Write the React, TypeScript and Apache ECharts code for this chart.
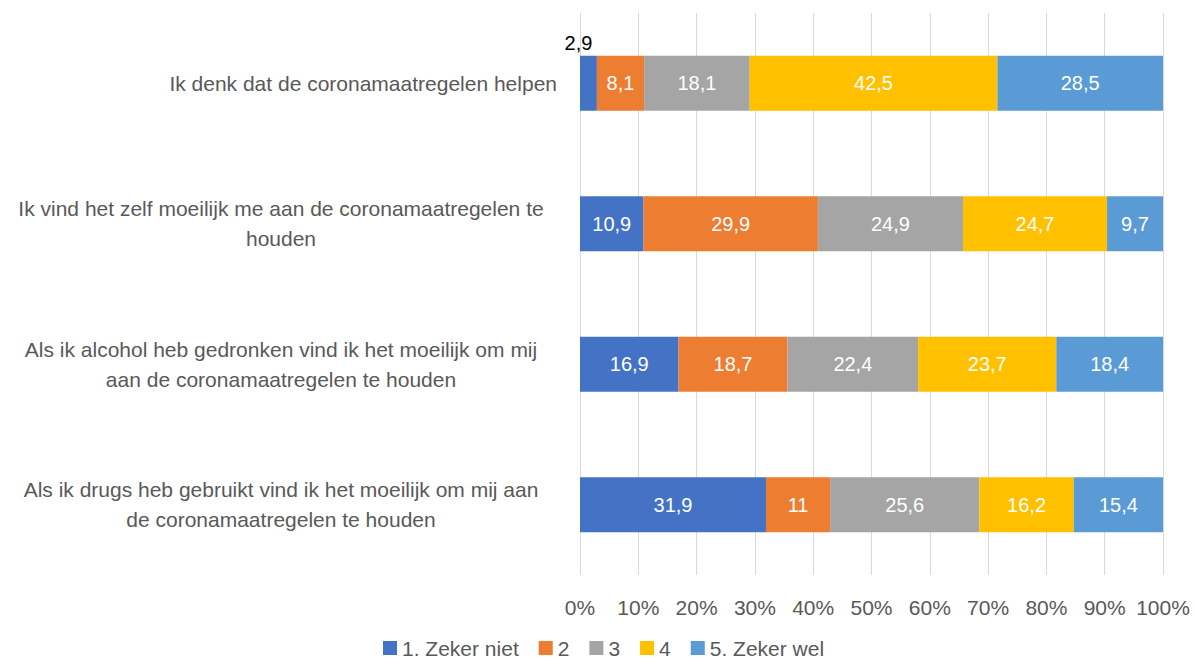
import React, { useEffect, useRef } from "react";
import * as echarts from "echarts";

const categories = [
  "Ik denk dat de coronamaatregelen helpen",
  "Ik vind het zelf moeilijk me aan de coronamaatregelen te\nhouden",
  "Als ik alcohol heb gedronken vind ik het moeilijk om mij\naan de coronamaatregelen te houden",
  "Als ik drugs heb gebruikt vind ik het moeilijk om mij aan\nde coronamaatregelen te houden",
];
const seriesNames = ["1. Zeker niet", "2", "3", "4", "5. Zeker wel"];
const zekerNiet = [2.9, 10.9, 16.9, 31.9];
const twee = [8.1, 29.9, 18.7, 11];
const drie = [18.1, 24.9, 22.4, 25.6];
const vier = [42.5, 24.7, 23.7, 16.2];
const zekerWel = [28.5, 9.7, 18.4, 15.4];
const xTicks = [0, 10, 20, 30, 40, 50, 60, 70, 80, 90, 100];

const colors = ["#4472C4", "#ED7D31", "#A5A5A5", "#FFC000", "#5B9BD5"];
const FONT = "Liberation Sans";

export default function App() {
  const ref = useRef<HTMLDivElement>(null);
  useEffect(() => {
    if (!ref.current) return;
    const chart = echarts.init(ref.current, null, { renderer: "svg" });
    const allData = [zekerNiet, twee, drie, vier, zekerWel];
    const fmt = (v: number) => String(v).replace(".", ",");
    const series = allData.map((arr, si) => ({
      name: seriesNames[si],
      type: "bar",
      stack: "total",
      barWidth: "39%",
      itemStyle: { color: colors[si] },
      label: {
        show: true,
        position: "inside",
        color: "#FFFFFF",
        fontFamily: FONT,
        fontSize: 20,
        formatter: (p: any) => fmt(p.value),
      },
      data: arr.map((v, ci) => {
        if (si === 0 && ci === 0) {
          return {
            value: v,
            label: { position: "top", color: "#000000", distance: 3, offset: [-10, 0] },
          };
        }
        return v;
      }),
    }));
    chart.setOption({
      animation: false,
      backgroundColor: "#FFFFFF",
      grid: { left: 580, right: 32, top: 13, bottom: 91, containLabel: false },
      legend: {
        top: 636,
        left: 383,
        padding: 0,
        itemWidth: 14,
        itemHeight: 14,
        itemGap: 20,
        icon: "rect",
        textStyle: { color: "#595959", fontFamily: FONT, fontSize: 21, lineHeight: 24 },
        data: seriesNames,
      },
      xAxis: {
        type: "value",
        min: 0,
        max: 100,
        interval: 10,
        axisLine: { show: false },
        axisTick: { show: false },
        splitLine: { show: true, lineStyle: { color: "#D9D9D9", width: 1 } },
        axisLabel: {
          color: "#595959",
          fontFamily: FONT,
          fontSize: 21,
          margin: 22,
          formatter: (v: number) => (xTicks.includes(v) ? v + "%" : ""),
        },
      },
      yAxis: {
        type: "category",
        inverse: true,
        data: categories,
        axisLine: { show: true, lineStyle: { color: "#D9D9D9" } },
        axisTick: { show: false },
        axisLabel: {
          color: "#595959",
          fontFamily: FONT,
          fontSize: 21,
          margin: 23,
          lineHeight: 30,
          formatter: (v: string) => {
            const lines = v.split("\n");
            if (lines.length === 1) return "{r|" + v + "}";
            return lines.map((l) => "{c|" + l + "}").join("\n");
          },
          rich: {
            r: { width: 552, align: "right", color: "#595959", fontFamily: FONT, fontSize: 21, lineHeight: 30 },
            c: { width: 552, align: "center", color: "#595959", fontFamily: FONT, fontSize: 21, lineHeight: 30 },
          },
        },
      },
      series,
    });
    return () => chart.dispose();
  }, []);
  return (
    <div
      ref={ref}
      style={{ position: "fixed", left: 0, top: 0, width: 1195, height: 666 }}
    />
  );
}
